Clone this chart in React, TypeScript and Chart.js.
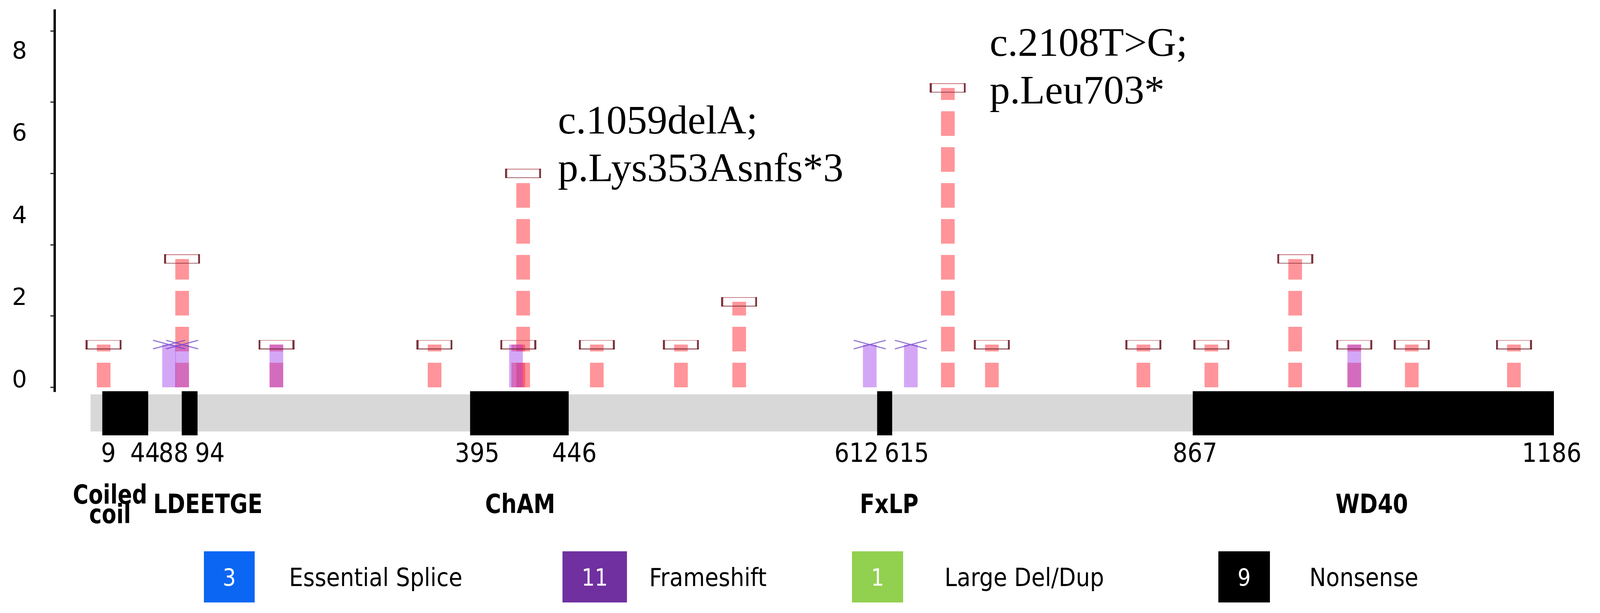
import React, { useEffect, useRef } from 'react';
import { Chart, registerables } from 'chart.js';

Chart.register(...registerables);

// ---------------- data ----------------
const yTickLabels = [0, 2, 4, 6, 8];
const yTickMarks = [0, 1.67, 3.33, 5, 6.67, 8.33];

const nonsensePos = [10.6, 74.2, 150.6, 278.8, 346.6, 350.6, 410.3, 478.5, 525.7, 694.8, 730.5, 853.3, 908.4, 976.3, 1024.2, 1070.8, 1153.6];
const nonsenseCount = [1, 3, 1, 1, 1, 5, 1, 1, 2, 7, 1, 1, 1, 3, 1, 1, 1];

const frameshiftPos = [63.6, 74.2, 150.6, 344.8, 631.5, 664.8, 1024.2];
const frameshiftCount = [1, 1, 1, 1, 1, 1, 1];

const proteinLength = 1186;
const domainNames = ['Coiled coil', 'LDEETGE', 'ChAM', 'FxLP', 'WD40'];
const domainStart = [9.5, 73.9, 307.6, 637.5, 893.3];
const domainEnd = [46.7, 86.7, 387.5, 649.7, 1186];

const positionLabels = ['9', '44', '88', '94', '395', '446', '612', '615', '867', '1186'];

const annotationText = [
  ['c.1059delA;', 'p.Lys353Asnfs*3'],
  ['c.2108T>G;', 'p.Leu703*'],
];

const legendLabels = ['Essential Splice', 'Frameshift', 'Large Del/Dup', 'Nonsense'];
const legendCounts = [3, 11, 1, 9];
const legendColors = ['#0b66f4', '#7030a0', '#92d050', '#000000'];

// ---------------- layout (positions / sizes / styles) ----------------
const LAYOUT = {
  xMin: -29.08,
  yMin: -0.1,
  yMax: 8.81,
  labelMin: -0.257,
  labelMax: 9.02,
  positionLabelAt: [14.5, 44.2, 67.3, 96.7, 313.3, 392.1, 620.9, 661.5, 895.1, 1184.2],
  domainLabelAt: [15.8, 95.1, 348.2, 647.2, 1038.4],
  annotationAt: [[378.8, 5.93], [728.7, 7.75]],
  annotationLineGap: 122,
  legendBoxX: [522, 1440, 2181, 3119],
  legendBoxW: [130, 165, 131, 132],
  legendTextX: [740, 1662, 2418, 3352],
  legendTop: 1412,
  legendH: 131,
};

const PINK = 'rgba(255,30,40,0.47)';
const PURPLE = 'rgba(160,60,235,0.45)';

function makeBoxMarker(): HTMLCanvasElement {
  const c = document.createElement('canvas');
  c.width = 92;
  c.height = 24;
  const g = c.getContext('2d')!;
  g.fillStyle = 'rgba(175,60,70,0.65)';
  g.fillRect(0, 0, 92, 2);
  g.fillStyle = 'rgba(120,30,40,0.85)';
  g.fillRect(0, 22, 92, 2);
  g.fillStyle = 'rgba(110,30,40,0.9)';
  g.fillRect(0, 0, 5, 24);
  g.fillRect(87, 0, 5, 24);
  return c;
}

function makeXMarker(): HTMLCanvasElement {
  const c = document.createElement('canvas');
  c.width = 86;
  c.height = 26;
  const g = c.getContext('2d')!;
  g.strokeStyle = 'rgba(110,70,200,0.85)';
  g.lineWidth = 2.5;
  g.beginPath();
  g.moveTo(2, 2);
  g.lineTo(84, 24);
  g.moveTo(2, 24);
  g.lineTo(84, 2);
  g.stroke();
  return c;
}

function drawText(
  ctx: CanvasRenderingContext2D,
  text: string,
  x: number,
  y: number,
  font: string,
  align: CanvasTextAlign,
  sx: number,
  color: string
) {
  ctx.save();
  ctx.font = font;
  ctx.fillStyle = color;
  ctx.textAlign = align;
  ctx.textBaseline = 'alphabetic';
  ctx.translate(x, y);
  ctx.scale(sx, 1);
  ctx.fillText(text, 0, 0);
  ctx.restore();
}

const overlayPlugin = {
  id: 'overlay',
  afterDraw(chart: any) {
    const ctx: CanvasRenderingContext2D = chart.ctx;
    const xs = chart.scales.x;
    const ys = chart.scales.y;
    const area = chart.chartArea;
    const px = (v: number) => xs.getPixelForValue(v);
    ctx.save();

    // small tick marks on the value axis
    ctx.fillStyle = '#222';
    yTickMarks.forEach((v) => {
      const y = ys.getPixelForValue(v);
      ctx.fillRect(area.left - 11, y - 1.5, 9, 3);
    });

    // protein track
    ctx.fillStyle = '#d8d8d8';
    ctx.fillRect(px(0), area.bottom + 7, px(proteinLength) - px(0), 95);
    ctx.fillStyle = '#000';
    domainStart.forEach((s, i) => {
      ctx.fillRect(px(s), area.bottom - 1, px(domainEnd[i]) - px(s), 113);
    });

    // position labels
    positionLabels.forEach((t, i) => {
      drawText(ctx, t, px(LAYOUT.positionLabelAt[i]), area.bottom + 180, '68px "DejaVu Sans"', 'center', 0.88, '#000');
    });

    // domain labels
    domainNames.forEach((name, i) => {
      const x = px(LAYOUT.domainLabelAt[i]);
      const words = name === 'Coiled coil' ? ['Coiled', 'coil'] : [name];
      if (words.length === 2) {
        drawText(ctx, words[0], x, area.bottom + 287, 'bold 68px "DejaVu Sans"', 'center', 0.8, '#000');
        drawText(ctx, words[1], x, area.bottom + 337, 'bold 68px "DejaVu Sans"', 'center', 0.8, '#000');
      } else {
        drawText(ctx, name, x, area.bottom + 311, 'bold 68px "DejaVu Sans"', 'center', 0.82, '#000');
      }
    });

    // annotations
    annotationText.forEach((lines, i) => {
      const [ax, ay] = LAYOUT.annotationAt[i];
      const x = px(ax);
      const y = ys.getPixelForValue(ay);
      lines.forEach((ln, j) => {
        drawText(ctx, ln, x, y + j * LAYOUT.annotationLineGap, '104px "Liberation Serif"', 'left', 1, '#000');
      });
    });

    // legend
    legendLabels.forEach((lab, i) => {
      const bx = LAYOUT.legendBoxX[i];
      const bw = LAYOUT.legendBoxW[i];
      const top = LAYOUT.legendTop;
      const h = LAYOUT.legendH;
      ctx.fillStyle = legendColors[i];
      ctx.fillRect(bx, top, bw, h);
      drawText(ctx, String(legendCounts[i]), bx + bw / 2, top + h / 2 + 22, '60px "DejaVu Sans"', 'center', 0.88, '#fff');
      drawText(ctx, lab, LAYOUT.legendTextX[i], top + h / 2 + 23, '64px "DejaVu Sans"', 'left', 0.89, '#000');
    });

    ctx.restore();
  },
};

export default function App() {
  const ref = useRef<HTMLCanvasElement>(null);

  useEffect(() => {
    const boxMarker = makeBoxMarker();
    const xMarker = makeXMarker();
    const datasets: any[] = [];

    nonsensePos.forEach((p, i) => {
      datasets.push({
        type: 'line',
        label: 'Nonsense',
        data: [
          { x: p, y: 0 },
          { x: p, y: nonsenseCount[i] },
        ],
        borderColor: PINK,
        borderWidth: 35,
        borderDash: [63, 29],
        borderCapStyle: 'butt',
        pointRadius: 0,
        pointHoverRadius: 0,
        fill: false,
        tension: 0,
        clip: false,
        order: 4,
      });
    });

    frameshiftPos.forEach((p, i) => {
      datasets.push({
        type: 'line',
        label: 'Frameshift',
        data: [
          { x: p, y: 0 },
          { x: p, y: frameshiftCount[i] },
        ],
        borderColor: PURPLE,
        borderWidth: 35,
        borderCapStyle: 'butt',
        pointRadius: 0,
        pointHoverRadius: 0,
        fill: false,
        tension: 0,
        clip: false,
        order: 3,
      });
    });

    // frameshift X markers (hidden where a nonsense head sits at the same spot)
    const fsTops = frameshiftPos
      .map((p, i) => ({ x: p, y: frameshiftCount[i] }))
      .filter((pt) => !nonsensePos.some((q, j) => Math.abs(q - pt.x) < 8 && nonsenseCount[j] === pt.y));
    datasets.push({
      type: 'line',
      label: 'Frameshift head',
      data: fsTops,
      showLine: false,
      pointStyle: xMarker,
      pointRadius: 5,
      pointHoverRadius: 5,
      clip: false,
      order: 2,
    });

    datasets.push({
      type: 'line',
      label: 'Nonsense head',
      data: nonsensePos.map((p, i) => ({ x: p, y: nonsenseCount[i] })),
      showLine: false,
      pointStyle: boxMarker,
      pointRadius: 5,
      pointHoverRadius: 5,
      clip: false,
      order: 1,
    });

    const chart = new Chart(ref.current!, {
      type: 'line',
      data: { datasets },
      options: {
        animation: false,
        responsive: true,
        maintainAspectRatio: false,
        events: [],
        layout: { padding: { left: 0, top: 27, right: 118, bottom: 567 } },
        plugins: { legend: { display: false }, tooltip: { enabled: false } },
        scales: {
          x: { type: 'linear', min: LAYOUT.xMin, max: proteinLength, display: false },
          y: { type: 'linear', min: LAYOUT.yMin, max: LAYOUT.yMax, display: false },
          yl: {
            type: 'linear',
            position: 'left',
            min: LAYOUT.labelMin,
            max: LAYOUT.labelMax,
            afterBuildTicks: (s: any) => {
              s.ticks = yTickLabels.map((v) => ({ value: v }));
            },
            afterFit: (s: any) => {
              s.width = 140;
              s.paddingTop = 0;
              s.paddingBottom = 0;
            },
            ticks: {
              font: { family: 'DejaVu Sans', size: 60 },
              color: '#000',
              padding: 71,
            },
            grid: { display: false, drawTicks: false },
            border: { display: true, color: '#000', width: 6 },
          },
        },
      } as any,
      plugins: [overlayPlugin],
    });
    return () => chart.destroy();
  }, []);

  return (
    <div style={{ position: 'fixed', left: 0, top: 0, width: '100vw', height: '100vh', background: '#fff' }}>
      <canvas ref={ref} />
    </div>
  );
}
